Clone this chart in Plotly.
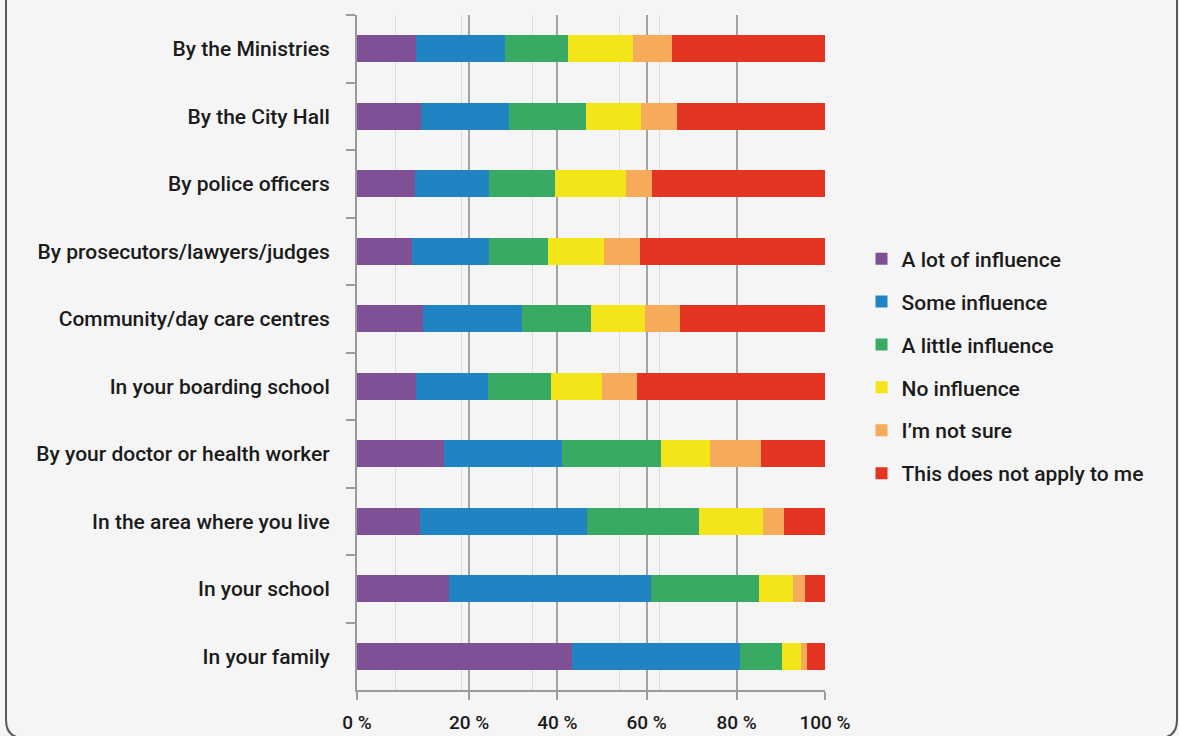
import plotly.graph_objects as go

# ---- data ----
CATEGORIES = [
    "By the Ministries",
    "By the City Hall",
    "By police officers",
    "By prosecutors/lawyers/judges",
    "Community/day care centres",
    "In your boarding school",
    "By your doctor or health worker",
    "In the area where you live",
    "In your school",
    "In your family",
]

SERIES_NAMES = [
    "A lot of influence",
    "Some influence",
    "A little influence",
    "No influence",
    "I\u2019m not sure",
    "This does not apply to me",
]

A_LOT = [12.5, 13.6, 12.3, 11.8, 14.2, 12.6, 18.5, 13.4, 19.6, 45.9]
SOME = [19.1, 18.8, 15.8, 16.4, 21.0, 15.3, 25.2, 35.7, 43.3, 35.9]
A_LITTLE = [13.5, 16.5, 14.3, 12.7, 14.7, 13.5, 21.3, 23.9, 23.0, 9.1]
NO_INFL = [13.9, 11.8, 15.0, 11.8, 11.6, 11.0, 10.5, 13.8, 7.3, 3.9]
NOT_SURE = [8.3, 7.6, 5.6, 7.8, 7.6, 7.5, 10.9, 4.4, 2.5, 1.3]
NOT_APPLY = [32.7, 31.7, 37.0, 39.5, 30.9, 40.1, 13.6, 8.8, 4.3, 3.9]

X_TICK_LABELS = ["0 %", "20 %", "40 %", "60 %", "80 %", "100 %"]

SERIES_VALUES = [A_LOT, SOME, A_LITTLE, NO_INFL, NOT_SURE, NOT_APPLY]
COLORS = ["#7f5095", "#2083c2", "#39aa64", "#f3e51a", "#f6ab5a", "#e43522"]

# ---- layout constants (pixels) ----
W, H = 1179, 736
ML, MR, MT, MB = 357, 354, 15, 46
PW, PH = W - ML - MR, H - MT - MB

# grid positions as drawn in the reference (axis units)
MAJOR_POS = [0, 23.95, 42.8, 61.9, 81.1, 100]
MINOR_POS = [8.27, 22.4, 37.6, 56.0, 64.6]

FONT = "Roboto"
TXT = "#1b1b1b"
AX = "#9b9b9b"
BG = "#f5f5f5"

fig = go.Figure()
for i, (name, vals, col) in enumerate(zip(SERIES_NAMES, SERIES_VALUES, COLORS)):
    fig.add_trace(go.Bar(
        y=CATEGORIES, x=vals, name=name, orientation="h",
        marker=dict(color=col, line=dict(width=0)),
        legendgroup=f"g{i}",
    ))


def px2paper(px, py):
    return (px - ML) / PW, (H - MB - py) / PH


# rounded frame around the figure (open at the top)
x0, x1, yb, r, yt = 6, 1177, 738, 18, -10
pts = {
    "a": px2paper(x0, yt), "b": px2paper(x0, yb - r), "c": px2paper(x0, yb),
    "d": px2paper(x0 + r, yb), "e": px2paper(x1 - r, yb), "f": px2paper(x1, yb),
    "g": px2paper(x1, yb - r), "h": px2paper(x1, yt),
}
path = (
    f"M{pts['a'][0]},{pts['a'][1]} L{pts['b'][0]},{pts['b'][1]} "
    f"Q{pts['c'][0]},{pts['c'][1]} {pts['d'][0]},{pts['d'][1]} "
    f"L{pts['e'][0]},{pts['e'][1]} "
    f"Q{pts['f'][0]},{pts['f'][1]} {pts['g'][0]},{pts['g'][1]} "
    f"L{pts['h'][0]},{pts['h'][1]}"
)
fig.add_shape(type="path", path=path, xref="paper", yref="paper",
              line=dict(color="#5a5a5a", width=2), layer="above")

fig.update_layout(
    width=W, height=H, autosize=False,
    margin=dict(l=ML, r=MR, t=MT, b=MB, pad=0, autoexpand=False),
    paper_bgcolor=BG, plot_bgcolor=BG,
    barmode="stack", bargap=0.6,
    font=dict(family=FONT, size=21, color=TXT, weight=500),
    showlegend=True,
    legend=dict(
        x=1.078, xanchor="left", y=0.48, yanchor="middle",
        traceorder="grouped", tracegroupgap=12.6,
        font=dict(family=FONT, size=21, color=TXT, weight=500),
        bgcolor="rgba(0,0,0,0)", itemclick=False,
    ),
    xaxis=dict(
        range=[0, 100], fixedrange=True, automargin=False,
        tickmode="array", tickvals=MAJOR_POS, ticktext=X_TICK_LABELS,
        showgrid=True, gridcolor="#a3a3a3", gridwidth=2,
        zeroline=False,
        showline=True, linecolor=AX, linewidth=2,
        ticks="outside", ticklen=8, tickwidth=2, tickcolor=AX,
        ticklabelstandoff=6,
        tickfont=dict(family=FONT, size=19, color=TXT, weight=500),
        minor=dict(tickmode="array", tickvals=MINOR_POS, showgrid=True,
                   gridcolor="#ded7e6", gridwidth=1, ticks=""),
    ),
    yaxis=dict(
        type="category", autorange="reversed", fixedrange=True,
        automargin=False,
        showgrid=False, zeroline=False,
        showline=True, linecolor=AX, linewidth=2,
        ticks="outside", tickson="boundaries", ticklen=9, tickwidth=2,
        tickcolor=AX, ticklabelstandoff=21,
        tickfont=dict(family=FONT, size=21, color=TXT, weight=500),
    ),
)

fig.write_html(
    "out.html",
    config={"displayModeBar": False, "responsive": False},
    post_script="document.body.style.margin='0';"
                "document.body.style.background='%s';" % BG,
)
